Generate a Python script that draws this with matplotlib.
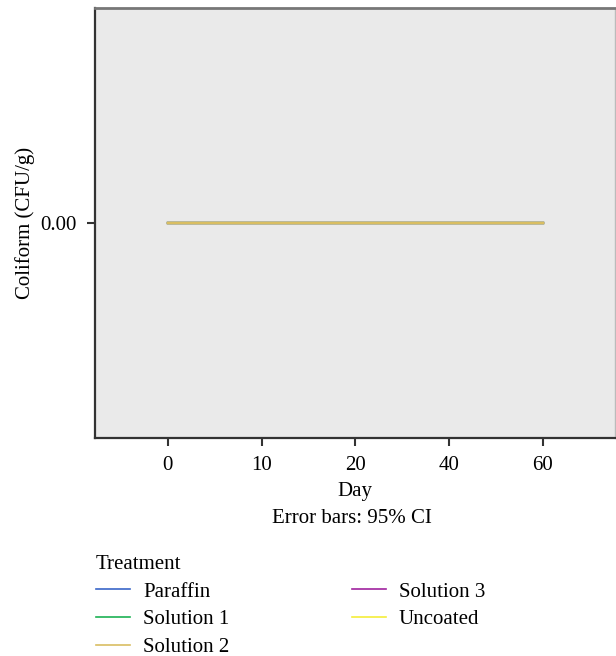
import matplotlib
matplotlib.use("Agg")
import matplotlib.pyplot as plt
from matplotlib.lines import Line2D

# data
days = ["0", "10", "20", "40", "60"]
treatments = ["Paraffin", "Solution 1", "Solution 2", "Solution 3", "Uncoated"]
colors = ["#3A66C8", "#1DB254", "#D9BE62", "#A0229E", "#F5EE3A"]
coliform = {
    "Paraffin": [0, 0, 0, 0, 0],
    "Solution 1": [0, 0, 0, 0, 0],
    "Solution 2": [0, 0, 0, 0, 0],
    "Solution 3": [0, 0, 0, 0, 0],
    "Uncoated": [0, 0, 0, 0, 0],
}

plt.rcParams['font.family'] = ['Liberation Serif', 'DejaVu Serif']
fs = 15

fig = plt.figure(figsize=(6.16, 6.56), dpi=100)
ax = fig.add_axes([0.154, 0.332, 0.844, 0.656])
ax.set_facecolor("#EAEAEA")

x = list(range(len(days)))
# draw solution 2 last so it sits on top, as in the reference
order = ["Paraffin", "Solution 1", "Solution 3", "Uncoated", "Solution 2"]
for name in order:
    c = colors[treatments.index(name)]
    ax.plot(x, coliform[name], color=c, lw=1.7)

ax.set_xlim(-0.78, 4.77)
ax.set_ylim(-1, 1)
ax.set_xticks(x)
ax.set_xticklabels(days)
ax.set_yticks([0])
ax.set_yticklabels(["0.00"])
ax.tick_params(direction="out", length=6, width=1.5, color="#333333", labelsize=fs, pad=7)

for s in ["left", "bottom"]:
    ax.spines[s].set_color("#333333")
    ax.spines[s].set_linewidth(1.6)
ax.spines["top"].set_color("#777777")
ax.spines["top"].set_linewidth(2)
ax.spines["right"].set_color("#BBBBBB")
ax.spines["right"].set_linewidth(1)

ax.set_xlabel("Day", fontsize=fs, labelpad=5)
ax.set_ylabel("Coliform (CFU/g)", fontsize=fs, labelpad=4)
fig.text(0.572, 0.209, "Error bars: 95% CI", fontsize=fs, ha="center", va="center")

# legend made from proxy lines with the legend colors
leg_handles = [Line2D([], [], color=c, lw=1.2) for c in colors]
leg = fig.legend(leg_handles, treatments, title="Treatment", ncol=2,
                 loc="upper left", bbox_to_anchor=(0.156, 0.154),
                 frameon=False, fontsize=fs, title_fontsize=fs,
                 handlelength=1.65, handletextpad=0.62, columnspacing=5.85,
                 labelspacing=0.39, alignment="left", borderaxespad=0,
                 borderpad=0)

fig.savefig("out.png", dpi=100)
